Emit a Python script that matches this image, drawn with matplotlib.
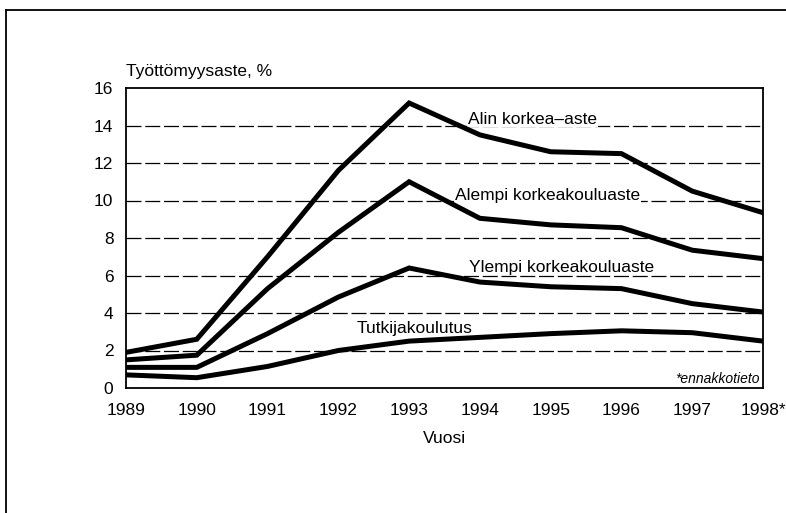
import matplotlib
matplotlib.use("Agg")
import matplotlib.pyplot as plt
from matplotlib.lines import Line2D

plt.rcParams['font.family'] = ['Liberation Sans', 'DejaVu Sans']

years = [1989, 1990, 1991, 1992, 1993, 1994, 1995, 1996, 1997, 1998]
year_labels = ['1989', '1990', '1991', '1992', '1993', '1994', '1995', '1996', '1997', '1998*']
alin = [1.9, 2.6, 7.0, 11.6, 15.2, 13.5, 12.6, 12.5, 10.5, 9.35]
alempi = [1.5, 1.75, 5.3, 8.3, 11.0, 9.05, 8.7, 8.55, 7.35, 6.9]
ylempi = [1.1, 1.1, 2.9, 4.85, 6.4, 5.65, 5.4, 5.3, 4.5, 4.05]
tutkija = [0.7, 0.55, 1.15, 2.0, 2.5, 2.7, 2.9, 3.05, 2.95, 2.5]
series = [alin, alempi, ylempi, tutkija]
names = ['Alin korkea–aste', 'Alempi korkeakouluaste', 'Ylempi korkeakouluaste', 'Tutkijakoulutus']
label_pos = [(1993.83, 14.1), (1993.65, 10.05), (1993.85, 6.2), (1992.26, 2.95)]

fig = plt.figure(figsize=(7.86, 5.13), dpi=100)
ax = fig.add_axes([126/786, 1 - 388/513, (763-126)/786, (388-88)/513])

for y in range(2, 16, 2):
    ax.axhline(y, color='black', lw=0.9, ls=(0, (12, 3)), zorder=1)

for s in series:
    ax.plot(years, s, color='black', lw=3.6, solid_joinstyle='miter', zorder=3)

for name, (x, y) in zip(names, label_pos):
    ax.text(x, y, name, fontsize=12.5, va='baseline', ha='left', zorder=2,
            bbox=dict(facecolor='white', edgecolor='none', pad=0.5))

ax.text(1997.95, 0.5, '*ennakkotieto', fontsize=10, style='italic', ha='right',
        va='center', zorder=2, bbox=dict(facecolor='white', edgecolor='none', pad=0.5))

ax.set_xlim(1989, 1998)
ax.set_ylim(0, 16)
ax.set_xticks(years)
ax.set_xticklabels(year_labels)
ax.set_yticks(range(0, 17, 2))
ax.tick_params(axis='both', length=0, labelsize=12.5)
ax.tick_params(axis='x', pad=11)
ax.tick_params(axis='y', pad=9)
for sp in ax.spines.values():
    sp.set_linewidth(1.3)

ax.text(1989, 16.5, 'Työttömyysaste, %', fontsize=12.5, ha='left', va='bottom')
ax.set_xlabel('Vuosi', fontsize=12.5, labelpad=9)

fig.add_artist(Line2D([6/786, 6/786], [0, 1 - 10/513], color='black', lw=1.3))
fig.add_artist(Line2D([6/786, 1], [1 - 10/513, 1 - 10/513], color='black', lw=1.3))

fig.savefig('out.png', dpi=100)
